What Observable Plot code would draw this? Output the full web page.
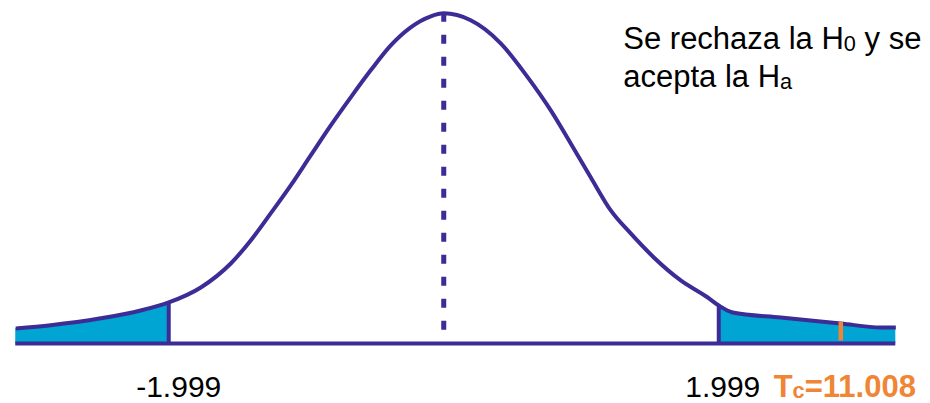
<!DOCTYPE html>
<html>
<head>
<meta charset="utf-8">
<script src="https://cdn.jsdelivr.net/npm/d3@7"></script>
<script src="https://cdn.jsdelivr.net/npm/@observablehq/plot@0.6"></script>
<style>
  html, body { margin: 0; padding: 0; background: #ffffff; }
  #chart svg { display: block; }
</style>
</head>
<body>
<div id="chart"></div>
<script>
// Curve: t position and density height
const tValues = [-3.111, -2.857, -2.493, -2.203, -1.999, -1.766, -1.548, -1.403, -1.258, -1.112,
  -0.967, -0.821, -0.676, -0.531, -0.385, -0.240, -0.094, 0, 0.196, 0.414, 0.611, 0.778, 0.923,
  1.069, 1.214, 1.359, 1.527, 1.723, 1.919, 1.999, 2.100, 2.450, 2.886, 3.177, 3.286];
const densities = [0.0181, 0.0221, 0.0305, 0.0399, 0.0496, 0.0677, 0.0967, 0.1245, 0.1572, 0.1911,
  0.2273, 0.2636, 0.2975, 0.3301, 0.3603, 0.3821, 0.3954, 0.399, 0.3906, 0.3628, 0.3216, 0.2817, 0.2418,
  0.2007, 0.1608, 0.1330, 0.1040, 0.0762, 0.0556, 0.0459, 0.0375, 0.0314, 0.0242, 0.0193, 0.0193];

const criticalValues = [-1.999, 1.999];
const criticalLabels = ["-1.999", "1.999"];
const tcLabel = "T_c=11.008";
const tcMarker = 2.886;       // where the orange mark sits on the axis
const tcMarkerTop = 0.0258;
const headline = "Se rechaza la H_0 y se\nacepta la H_a";
const headlineAnchor = {t: 1.305, d: 0.3094};

const curve = tValues.map((t, i) => ({t, d: densities[i]}));
const densityAt = (t) => curve.find(p => p.t === t).d;
const peak = densityAt(0);

const INK = "#3B2C96";
const FILL = "#00A5D4";
const ORANGE = "#EF8535";
const FONT = "'Liberation Sans', Arial, Helvetica, sans-serif";

const plot = Plot.plot({
  width: 930,
  height: 403,
  marginLeft: 3,
  marginRight: 19,
  marginTop: 12,
  marginBottom: 60,
  style: {fontFamily: FONT, background: "#ffffff"},
  x: {domain: [-3.2, 3.4], axis: null},
  y: {domain: [0, 0.4], axis: null},
  marks: [
    Plot.areaY(curve.filter(p => p.t <= criticalValues[0]), {x: "t", y: "d", fill: FILL, curve: "monotone-x"}),
    Plot.areaY(curve.filter(p => p.t >= criticalValues[1]), {x: "t", y: "d", fill: FILL, curve: "monotone-x"}),
    Plot.ruleX(criticalValues, {y1: 0, y2: (t) => densityAt(t), stroke: INK, strokeWidth: 4}),
    Plot.ruleX([0], {y1: peak, y2: 0.0096, stroke: INK, strokeWidth: 5, strokeDasharray: "9,13"}),
    Plot.ruleY([0], {x1: tValues[0], x2: tValues[tValues.length - 1], stroke: INK, strokeWidth: 4}),
    Plot.line(curve, {x: "t", y: "d", stroke: INK, strokeWidth: 4, curve: "monotone-x", strokeLinecap: "butt"}),
    Plot.ruleX([tcMarker], {y1: 0.003, y2: tcMarkerTop, stroke: ORANGE, strokeWidth: 4.5}),
    Plot.text([criticalLabels[0]], {x: criticalValues[0], y: 0, text: d => d, dx: 10, dy: 53,
      lineAnchor: "bottom", textAnchor: "middle", fontSize: 30, fill: "#000"}),
    Plot.text([criticalLabels[1]], {x: criticalValues[1], y: 0, text: d => d, dx: 4, dy: 53,
      lineAnchor: "bottom", textAnchor: "middle", fontSize: 30, fill: "#000"}),
    Plot.text([tcLabel], {x: tcMarker, y: 0, text: d => d, dx: 4, dy: 53,
      lineAnchor: "bottom", textAnchor: "middle", fontSize: 31, fontWeight: "bold", fill: ORANGE}),
    Plot.text([headline], {x: headlineAnchor.t, y: headlineAnchor.d, text: d => d,
      lineAnchor: "bottom", textAnchor: "start", lineHeight: 1.24, fontSize: 31, fill: "#000"})
  ]
});

// turn "X_y" into a real subscript
function subscriptify(el) {
  const s = el.textContent;
  if (!s.includes("_")) return;
  const parts = s.split(/_(\w)/);
  el.textContent = "";
  let shifted = false;
  parts.forEach((part, i) => {
    if (part === "") return;
    const ts = document.createElementNS("http://www.w3.org/2000/svg", "tspan");
    if (i % 2 === 1) {
      ts.setAttribute("font-size", "0.7em");
      ts.setAttribute("dy", "1.5");
      shifted = true;
    } else if (shifted) {
      ts.setAttribute("dy", "-1.5");
      shifted = false;
    }
    ts.textContent = part;
    el.appendChild(ts);
  });
}
plot.querySelectorAll("text").forEach(t => {
  const lines = t.querySelectorAll("tspan");
  if (lines.length) lines.forEach(subscriptify);
  else subscriptify(t);
});

document.getElementById("chart").appendChild(plot);
</script>
</body>
</html>
